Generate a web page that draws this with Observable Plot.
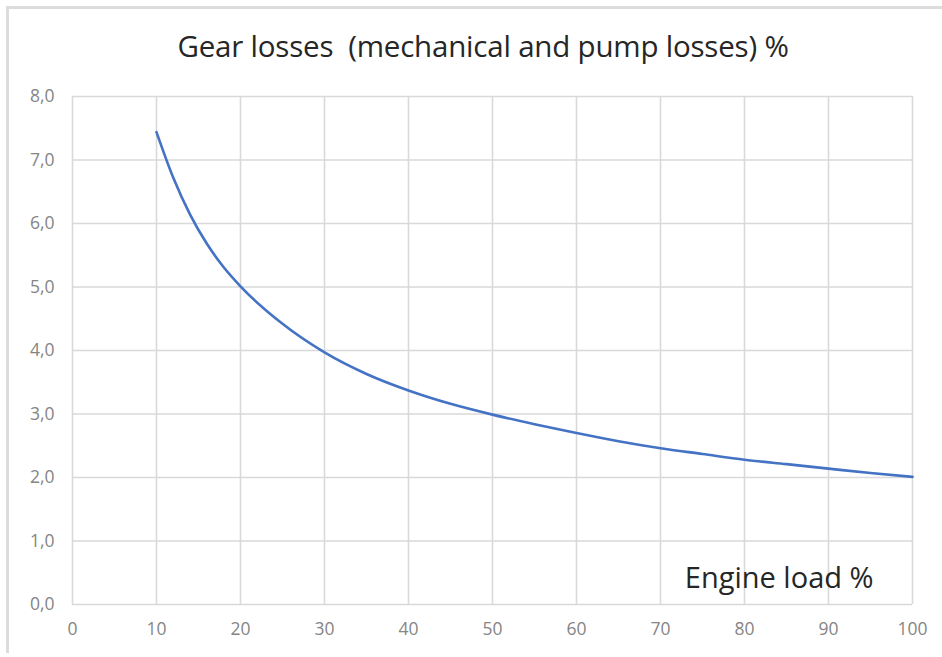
<!DOCTYPE html>
<html>
<head>
<meta charset="utf-8">
<script src="https://cdn.jsdelivr.net/npm/d3@7"></script>
<script src="https://cdn.jsdelivr.net/npm/@observablehq/plot@0.6"></script>
<style>
  html, body { margin: 0; padding: 0; background: #fff; }
  #wrap { position: relative; width: 942px; height: 657px; overflow: hidden; }
  #frame { position: absolute; left: 6px; top: 6px; right: 0; bottom: 4px;
           border-top: 3px solid #dcdcdc; border-left: 3px solid #dcdcdc; pointer-events: none; }
  #title { position: absolute; left: 0; top: 0; width: 942px; height: 80px; text-align: center;
           font-family: "Open Sans", sans-serif; font-size: 29.5px; color: #262626; line-height: 1;
           box-sizing: border-box; padding-top: 31px; white-space: pre; letter-spacing: -0.2px;
           padding-left: 24px; }
  #chart { position: absolute; left: 0; top: 80px; }
</style>
</head>
<body>
<div id="wrap">
  <div id="frame"></div>
  <div id="title">Gear losses  (mechanical and pump losses) %</div>
  <div id="chart"></div>
</div>
<script>
// Engine load % (x) and gear losses % (y)
const engineLoad = [10, 12, 14, 16, 18, 20, 25, 30, 35, 40, 45, 50, 55, 60, 65, 70, 75, 80, 85, 90, 95, 100];
const gearLosses = [7.44, 6.72, 6.14, 5.68, 5.31, 5.01, 4.42, 3.97, 3.63, 3.37, 3.16, 2.99, 2.84, 2.70, 2.57, 2.46, 2.37, 2.28, 2.21, 2.14, 2.07, 2.01];
const xTicks = [0, 10, 20, 30, 40, 50, 60, 70, 80, 90, 100];
const yTicks = [0, 1, 2, 3, 4, 5, 6, 7, 8];
const titleText = "Gear losses  (mechanical and pump losses) %";
const xLabel = "Engine load %";

const data = engineLoad.map((x, i) => ({x, y: gearLosses[i]}));
const fmtY = d => d3.format(".1f")(d).replace(".", ",");

const chart = Plot.plot({
  width: 942,
  height: 577,
  marginLeft: 72,
  marginRight: 30,
  marginTop: 16,
  marginBottom: 53,
  style: { fontFamily: "Open Sans, sans-serif", background: "transparent" },
  x: { domain: [0, 100], ticks: xTicks, label: null },
  y: { domain: [0, 8], ticks: yTicks, label: null },
  marks: [
    Plot.gridX(xTicks, { stroke: "#d9d9d9", strokeOpacity: 1, strokeWidth: 1.6 }),
    Plot.gridY(yTicks, { stroke: "#d9d9d9", strokeOpacity: 1, strokeWidth: 1.6 }),
    Plot.axisX(xTicks, { tickSize: 0, tickPadding: 18, fontSize: 17.5, fill: "#858585", tickFormat: d => String(d) }),
    Plot.axisY(yTicks, { tickSize: 0, tickPadding: 18, fontSize: 17.5, fill: "#858585", tickFormat: fmtY }),
    Plot.line(data, { x: "x", y: "y", stroke: "#4472c4", strokeWidth: 2.6, curve: "monotone-x" }),
    Plot.text([xLabel], { frameAnchor: "bottom-right", text: d => d, textAnchor: "end", lineAnchor: "bottom",
      dx: -39, dy: -17, fontSize: 29, fill: "#262626" })
  ]
});
document.getElementById("chart").appendChild(chart);
</script>
</body>
</html>
